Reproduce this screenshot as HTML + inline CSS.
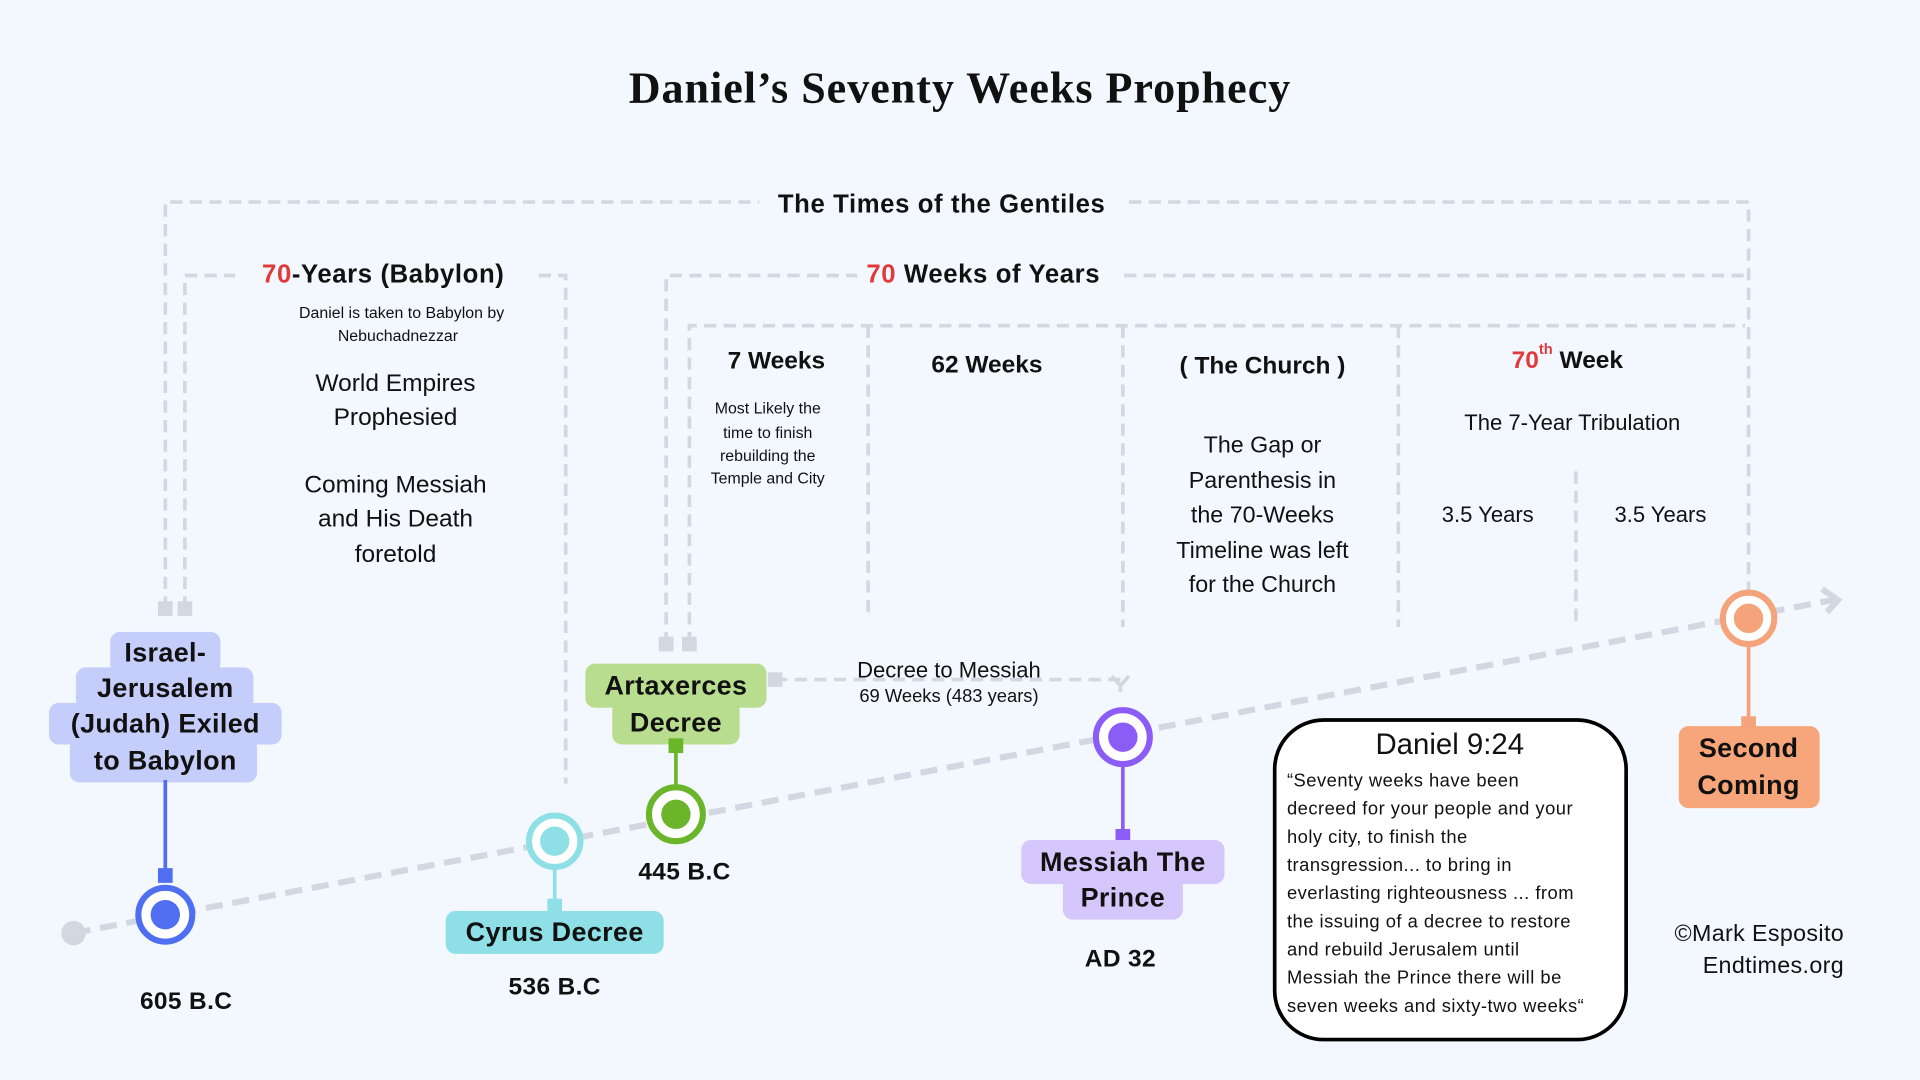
<!DOCTYPE html>
<html><head><meta charset="utf-8"><style>html,body{margin:0;padding:0;background:#f3f8fe;}svg{display:block}text{font-family:"Liberation Sans",sans-serif;fill:#111;}</style></head>
<body>
<svg width="1920" height="1080" viewBox="0 0 1568 882" xmlns="http://www.w3.org/2000/svg">
<rect width="1568" height="882" fill="#f3f8fe"/>
<text x="784" y="72" text-anchor="middle" dominant-baseline="central" style="font-family:'Liberation Serif',serif;font-weight:bold;font-size:36px;letter-spacing:0.8px">Daniel’s Seventy Weeks Prophecy</text>
<g fill="none" stroke="#d3d7e2" stroke-width="3" stroke-dasharray="10 6">
<path d="M135,497 V165 H620"/><path d="M922,165 H1428 V485"/>
<path d="M151,497 V225 H192"/><path d="M440,225 H462 V640"/>
<path d="M544,526 V225 H700"/><path d="M918,225 H1425"/>
<path d="M563,526 V266 H1425"/>
<path d="M709,266 V505"/><path d="M917,266 V512"/><path d="M1142,266 V512"/><path d="M1287,385 V512"/>
<path d="M633,555 H915 V565"/>
</g>
<polyline points="908,552 915,560 922,552" fill="none" stroke="#d3d7e2" stroke-width="3"/>
<g fill="#d3d7e2"><rect x="129" y="491" width="12" height="12"/><rect x="145" y="491" width="12" height="12"/><rect x="538" y="520" width="12" height="12"/><rect x="557" y="520" width="12" height="12"/><rect x="627" y="549" width="12" height="12"/><circle cx="60" cy="762" r="10"/></g>
<line x1="60" y1="762" x2="1497" y2="490" stroke="#d3d7e2" stroke-width="5" stroke-dasharray="14 8"/>
<polyline points="1488,481 1501,490 1492,500" fill="none" stroke="#d3d7e2" stroke-width="5"/>
<g text-anchor="middle" dominant-baseline="central">
<text x="769" y="167" font-weight="bold" font-size="21" letter-spacing="0.5">The Times of the Gentiles</text>
<text x="313" y="224" font-weight="bold" font-size="21" letter-spacing="0.5"><tspan fill="#e03a3a">70</tspan>-Years (Babylon)</text>
<text x="328" y="256" font-size="13">Daniel is taken to Babylon by</text>
<text x="325" y="275" font-size="13">Nebuchadnezzar</text>
<g font-size="20"><text x="323" y="313">World Empires</text><text x="323" y="341">Prophesied</text><text x="323" y="396">Coming Messiah</text><text x="323" y="424">and His Death</text><text x="323" y="453">foretold</text></g>
<text x="803" y="224" font-weight="bold" font-size="21" letter-spacing="0.5"><tspan fill="#e03a3a">70</tspan> Weeks of Years</text>
<text x="634" y="295" font-weight="bold" font-size="20">7 Weeks</text>
<g font-size="13"><text x="627" y="334">Most Likely the</text><text x="627" y="354">time to finish</text><text x="627" y="373">rebuilding the</text><text x="627" y="391">Temple and City</text></g>
<text x="806" y="298" font-weight="bold" font-size="20">62 Weeks</text>
<text x="1031" y="299" font-weight="bold" font-size="20">( The Church )</text>
<g font-size="19"><text x="1031" y="363">The Gap or</text><text x="1031" y="392">Parenthesis in</text><text x="1031" y="420">the 70-Weeks</text><text x="1031" y="449">Timeline was left</text><text x="1031" y="477">for the Church</text></g>
<text x="1280" y="294" font-weight="bold" font-size="20"><tspan fill="#e03a3a">70</tspan><tspan fill="#e03a3a" font-size="12" dy="-8">th</tspan><tspan dy="8"> Week</tspan></text>
<text x="1284" y="345" font-size="18">The 7-Year Tribulation</text>
<text x="1215" y="420" font-size="18">3.5 Years</text><text x="1356" y="420" font-size="18">3.5 Years</text>
<text x="775" y="547" font-size="18">Decree to Messiah</text>
<text x="775" y="568" font-size="15">69 Weeks  (483 years)</text>
</g>
<g fill="#c5cdfb"><rect x="90" y="516" width="90" height="34" rx="8"/><rect x="62" y="545" width="145" height="34" rx="8"/><rect x="40" y="574" width="190" height="34" rx="8"/><rect x="57" y="603" width="153" height="36" rx="8"/></g>
<line x1="135" y1="637" x2="135" y2="714" stroke="#4f6ef0" stroke-width="3"/><rect x="129" y="709" width="12" height="12" fill="#4f6ef0"/>
<circle cx="135" cy="747" r="22" fill="#fff" stroke="#4f6ef0" stroke-width="5"/><circle cx="135" cy="747" r="12" fill="#4f6ef0"/>
<circle cx="453" cy="687" r="21" fill="#fff" stroke="#8ee0e6" stroke-width="5"/><circle cx="453" cy="687" r="12" fill="#8ee0e6"/>
<line x1="453" y1="708" x2="453" y2="742" stroke="#8ee0e6" stroke-width="3"/><rect x="447" y="734" width="12" height="12" fill="#8ee0e6"/>
<rect x="364" y="744" width="178" height="35" rx="8" fill="#8ee0e6"/>
<g fill="#b9dd8e"><rect x="478" y="542" width="148" height="36" rx="8"/><rect x="500" y="572" width="104" height="36" rx="8"/></g>
<rect x="546" y="603" width="12" height="12" fill="#6ab52a"/><line x1="552" y1="610" x2="552" y2="643" stroke="#6ab52a" stroke-width="3"/>
<circle cx="552" cy="665" r="22" fill="#fff" stroke="#6ab52a" stroke-width="5"/><circle cx="552" cy="665" r="12" fill="#6ab52a"/>
<line x1="917" y1="602" x2="917" y2="684" stroke="#8b5cf6" stroke-width="3"/><rect x="911" y="677" width="12" height="12" fill="#8b5cf6"/>
<circle cx="917" cy="602" r="22" fill="#fff" stroke="#8b5cf6" stroke-width="5"/><circle cx="917" cy="602" r="12" fill="#8b5cf6"/>
<g fill="#d5c7fb"><rect x="834" y="686" width="166" height="36" rx="8"/><rect x="868" y="716" width="98" height="35" rx="8"/></g>
<line x1="1428" y1="505" x2="1428" y2="592" stroke="#f4a37a" stroke-width="3"/><rect x="1422" y="585" width="12" height="12" fill="#f4a37a"/>
<circle cx="1428" cy="505" r="21" fill="#fff" stroke="#f4a37a" stroke-width="5"/><circle cx="1428" cy="505" r="12" fill="#f4a37a"/>
<line x1="1428" y1="495" x2="1428" y2="515" stroke="#f4a37a" stroke-width="2"/>
<rect x="1371" y="593" width="115" height="67" rx="8" fill="#f7a57a"/>
<g text-anchor="middle" dominant-baseline="central" font-weight="bold" font-size="22" letter-spacing="0.3">
<text x="135" y="533">Israel-</text><text x="135" y="562">Jerusalem</text><text x="135" y="591">(Judah) Exiled</text><text x="135" y="621">to Babylon</text>
<text x="453" y="761">Cyrus Decree</text>
<text x="552" y="560">Artaxerces</text><text x="552" y="590">Decree</text>
<text x="917" y="704">Messiah The</text><text x="917" y="733">Prince</text>
<text x="1428" y="611">Second</text><text x="1428" y="641">Coming</text>
<g font-size="20"><text x="152" y="818">605 B.C</text><text x="453" y="806">536 B.C</text><text x="559" y="712">445 B.C</text><text x="915" y="783">AD 32</text></g>
</g>
<rect x="1041" y="588" width="287" height="261" rx="40" fill="#fff" stroke="#000" stroke-width="3"/>
<text x="1184" y="608" text-anchor="middle" dominant-baseline="central" font-size="24">Daniel 9:24</text>
<g font-size="15" dominant-baseline="central" letter-spacing="0.4">
<text x="1051" y="637">“Seventy weeks have been</text>
<text x="1051" y="660">decreed for your people and your</text>
<text x="1051" y="683">holy city, to finish the</text>
<text x="1051" y="706">transgression... to bring in</text>
<text x="1051" y="729">everlasting righteousness ... from</text>
<text x="1051" y="752">the issuing of a decree to restore</text>
<text x="1051" y="775">and rebuild Jerusalem until</text>
<text x="1051" y="798">Messiah the Prince there will be</text>
<text x="1051" y="821">seven weeks and sixty-two weeks“</text>
</g>
<g text-anchor="end" dominant-baseline="central" font-size="19" letter-spacing="0.3"><text x="1506" y="762">©Mark Esposito</text><text x="1506" y="788">Endtimes.org</text></g>
</svg>
</body></html>
